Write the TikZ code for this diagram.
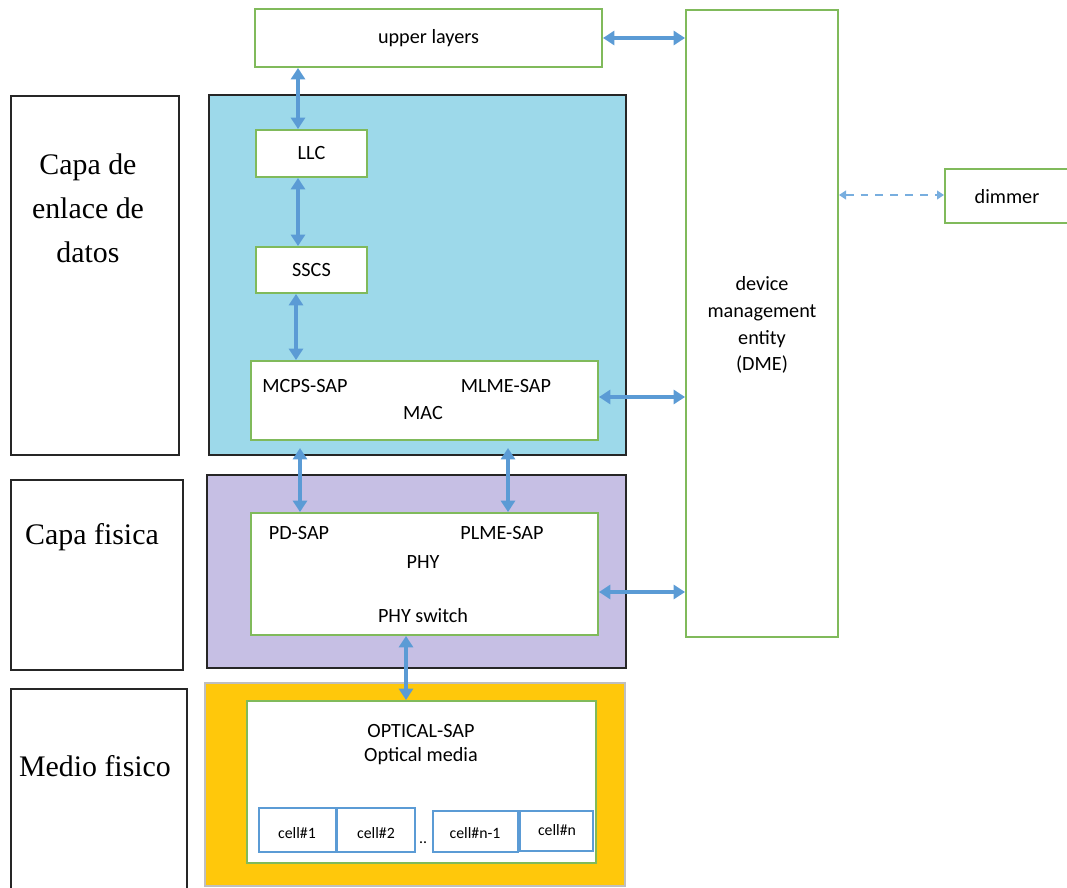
\documentclass[tikz,border=0pt]{standalone}
\usepackage{fontspec}
\setmainfont{Carlito}
\newfontfamily\capafont{Liberation Serif}
\usetikzlibrary{arrows.meta, fit}

\definecolor{boxgreen}{HTML}{80BA5B}
\definecolor{arrowblue}{HTML}{5B9BD5}
\definecolor{dashblue}{HTML}{78AEDF}
\definecolor{linkfill}{HTML}{9DD9EA}
\definecolor{phyfill}{HTML}{C6BFE4}
\definecolor{mediafill}{HTML}{FFC80B}

\tikzset{
  gbox/.style={draw=boxgreen, line width=1.1pt, fill=white, inner sep=0pt},
  layer/.style={draw=black!85, line width=1.2pt, inner sep=0pt},
  capa/.style={draw=black!85, line width=0.9pt, inner sep=0pt},
  capatext/.style={align=center, font=\capafont\fontsize{17}{25}\selectfont},
  txt/.style={font=\fontsize{11.5}{14}\selectfont, inner sep=0pt},
  celltxt/.style={font=\fontsize{9}{11}\selectfont, inner sep=0pt},
  cellbox/.style={draw=arrowblue, line width=1.1pt, fill=white, inner sep=0pt},
  biarrow/.style={{Triangle[width=8pt,length=6.5pt]}-{Triangle[width=8pt,length=6.5pt]},
    draw=arrowblue, line width=1.8pt},
  dasharrow/.style={{Triangle[width=5pt,length=4pt]}-{Triangle[width=5pt,length=4pt]},
    draw=dashblue, line width=0.9pt, dash pattern=on 4.5pt off 4pt}
}

\begin{document}
\begin{tikzpicture}[x=0.02cm, y=-0.02cm]
  \useasboundingbox (0,0) rectangle (1067,888);

  % left column
  \node[capa, fit={(11,96) (179,455)}] (enlace) {};
  \node[capatext] (enlacetxt) at (88,208) {Capa de\\enlace de\\datos};
  \node[capa, fit={(11,480) (183,670)}] (fisica) {};
  \node[capatext] (fisicatxt) at (92,537) {Capa fisica};
  \node[capa, fit={(11,689) (187,895)}] (medio) {};
  \node[capatext] (mediotxt) at (95,766) {Medio fisico};

  % coloured layers
  \node[layer, fill=linkfill, fit={(209,95) (626,455)}] (linkl) {};
  \node[layer, fill=phyfill, fit={(207,475) (626,668)}] (phyl) {};
  \node[draw=black!25, line width=1.2pt, fill=mediafill, inner sep=0pt,
    fit={(205,683) (625,886)}] (medial) {};

  % boxes
  \node[gbox, fit={(255,9) (602,67)}] (up) {};
  \node[txt] (uptxt) at (up) {upper layers};
  \node[gbox, fit={(686,10) (838,637)}] (dme) {};
  \node[txt, align=center, font=\fontsize{11.5}{15.3}\selectfont] (dmetxt) at (762,325)
    {device\\management\\entity\\(DME)};
  \node[gbox, fit={(945,169) (1072,223)}] (dimmer) {};
  \node[txt] (dimmertxt) at (1007,197) {dimmer};

  \node[gbox, fit={(256,130) (367,177)}] (llc) {};
  \node[txt] (llctxt) at (llc) {LLC};
  \node[gbox, fit={(256,247) (367,293)}] (sscs) {};
  \node[txt] (sscstxt) at (sscs) {SSCS};

  \node[gbox, fit={(251,361) (598,440)}] (mac) {};
  \node[txt] (mcps) at (305,386) {MCPS-SAP};
  \node[txt] (mlme) at (506,386) {MLME-SAP};
  \node[txt] (mactxt) at (423,413) {MAC};

  \node[gbox, fit={(251,513) (598,635)}] (phy) {};
  \node[txt] (pdsap) at (299,533) {PD-SAP};
  \node[txt] (plme) at (502,533) {PLME-SAP};
  \node[txt] (phytxt) at (423,562) {PHY};
  \node[txt] (physwitch) at (423,616) {PHY switch};

  \node[gbox, fit={(247,701) (596,863)}] (optical) {};
  \node[txt] (opsap) at (421,731) {OPTICAL-SAP};
  \node[txt] (opmedia) at (421,756) {Optical media};

  % cells
  \node[cellbox, fit={(259,808) (336,852)}] (cell1) {};
  \node[celltxt] (cell1txt) at (297,833) {cell\#1};
  \node[cellbox, fit={(337,808) (415,852)}] (cell2) {};
  \node[celltxt] (cell2txt) at (376,833) {cell\#2};
  \node[celltxt] (dots) at (423,843) {..};
  \node[cellbox, fit={(433,811) (518,852)}] (cellm) {};
  \node[celltxt] (cellmtxt) at (475,833) {cell\#n-1};
  \node[cellbox, fit={(520,811) (593,851)}] (celln) {};
  \node[celltxt] (cellntxt) at (557,830) {cell\#n};

  % connectors
  \draw[biarrow] (up.south -| 298,0) -- (llc.north -| 298,0);
  \draw[biarrow] (llc.south -| 298,0) -- (sscs.north -| 298,0);
  \draw[biarrow] (sscs.south -| 296,0) -- (mac.north -| 296,0);
  \draw[biarrow, shorten <=4pt] (mac.south -| 300,0) -- (phy.north -| 300,0);
  \draw[biarrow, shorten <=4pt] (mac.south -| 508,0) -- (phy.north -| 508,0);
  \draw[biarrow] (phy.south -| 406,0) -- (optical.north -| 406,0);
  \draw[biarrow] (up.east) -- (dme.west |- up.east);
  \draw[biarrow] (mac.east |- 0,397) -- (dme.west |- 0,397);
  \draw[biarrow] (phy.east |- 0,592) -- (dme.west |- 0,592);
  \draw[dasharrow] (dme.east |- 0,195) -- (dimmer.west |- 0,195);
\end{tikzpicture}
\end{document}
